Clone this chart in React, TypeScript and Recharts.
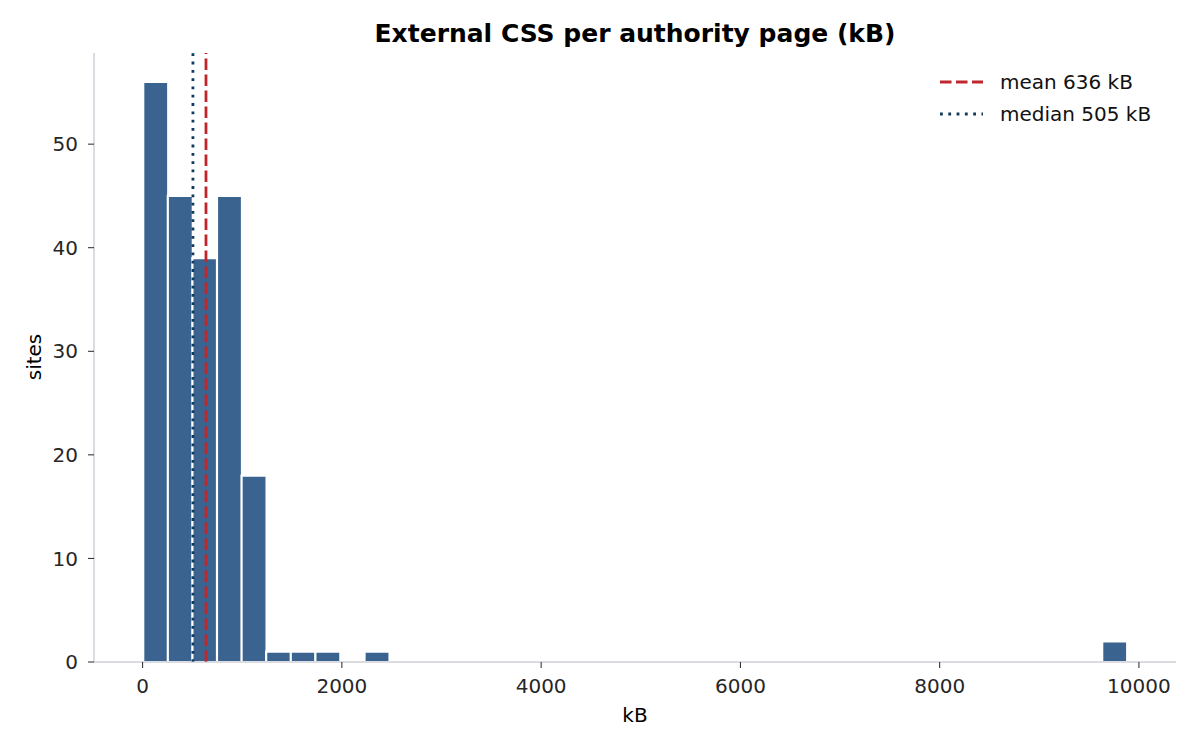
import React from "react";
import { ComposedChart, Bar, XAxis, YAxis, ReferenceLine } from "recharts";

// histogram of external CSS per page, 40 equal bins from ~6 to ~9878 kB
const BIN_START = 6;
const BIN_WIDTH = 246.8;
const counts = [
  56, 45, 39, 45, 18, 1, 1, 1, 0, 1,
  0, 0, 0, 0, 0, 0, 0, 0, 0, 0,
  0, 0, 0, 0, 0, 0, 0, 0, 0, 0,
  0, 0, 0, 0, 0, 0, 0, 0, 0, 2,
];
const xTicks = [0, 2000, 4000, 6000, 8000, 10000];
const yTicks = [0, 10, 20, 30, 40, 50];
const MEAN = 636;
const MEDIAN = 505;

const data = counts.map((c, i) => ({
  x: BIN_START + (i + 0.5) * BIN_WIDTH,
  sites: c,
}));

const FONT = "'DejaVu Sans', sans-serif";
const BAR = "#3a6390";
const MEAN_COLOR = "#c0272d";
const MEDIAN_COLOR = "#0d3b5e";
const SPINE = "#b5b9c4";
const INK = "#262626";
const MEAN_DASH = "11.5 4.5";
const MEDIAN_DASH = "2.8 5.5";

function LegendBox() {
  const rows = [
    { label: `mean ${MEAN} kB`, color: MEAN_COLOR, dash: MEAN_DASH },
    { label: `median ${MEDIAN} kB`, color: MEDIAN_COLOR, dash: MEDIAN_DASH },
  ];
  return (
    <svg
      width={260}
      height={70}
      style={{ position: "absolute", left: 930, top: 65 }}
    >
      {rows.map((r, i) => (
        <g key={r.label}>
          <line
            x1={10}
            x2={53}
            y1={17 + i * 32}
            y2={17 + i * 32}
            stroke={r.color}
            strokeWidth={2.8}
            strokeDasharray={r.dash}
          />
          <text
            x={70}
            y={24 + i * 32}
            fontFamily={FONT}
            fontSize={20}
            fill="#111"
          >
            {r.label}
          </text>
        </g>
      ))}
    </svg>
  );
}

export default function App() {
  return (
    <div
      style={{
        position: "absolute",
        left: 0,
        top: 0,
        width: 1200,
        height: 750,
        background: "#fff",
      }}
    >
      <div
        style={{
          position: "absolute",
          left: 94,
          top: 18.6,
          width: 1082,
          textAlign: "center",
          fontFamily: FONT,
          fontWeight: "bold",
          fontSize: 25,
          lineHeight: "30px",
          color: "#000",
        }}
      >
        External CSS per authority page (kB)
      </div>
      <ComposedChart
        width={1200}
        height={750}
        data={data}
        margin={{ top: 53, right: 24, bottom: 0, left: 0 }}
        barCategoryGap={0}
        barGap={0}
      >
        <XAxis
          dataKey="x"
          type="number"
          domain={[-488, 10372]}
          ticks={xTicks}
          allowDataOverflow
          height={88}
          stroke={SPINE}
          tickSize={6}
          tickMargin={11}
          tickLine={{ stroke: INK }}
          tick={{ fill: INK, fontFamily: FONT, fontSize: 20 }}
          label={(props: any) => (
            <text
              x={props.viewBox.x + props.viewBox.width / 2}
              y={722}
              textAnchor="middle"
              fontFamily={FONT}
              fontSize={20}
              fill="#000"
            >
              kB
            </text>
          )}
        />
        <YAxis
          type="number"
          domain={[0, 58.8]}
          ticks={yTicks}
          allowDataOverflow
          width={94}
          stroke={SPINE}
          tickSize={6}
          tickMargin={10}
          tickLine={{ stroke: INK }}
          tick={{ fill: INK, fontFamily: FONT, fontSize: 20 }}
          label={() => (
            <text
              x={41}
              y={357}
              transform="rotate(-90 41 357)"
              textAnchor="middle"
              fontFamily={FONT}
              fontSize={20}
              fill="#000"
            >
              sites
            </text>
          )}
        />
        <Bar
          dataKey="sites"
          fill={BAR}
          stroke="#fff"
          strokeWidth={2.2}
          isAnimationActive={false}
        />
        <ReferenceLine
          x={MEDIAN}
          stroke={MEDIAN_COLOR}
          strokeWidth={2.8}
          strokeDasharray={MEDIAN_DASH}
        />
        <ReferenceLine
          x={MEAN}
          stroke={MEAN_COLOR}
          strokeWidth={2.8}
          strokeDasharray={MEAN_DASH}
        />
      </ComposedChart>
      <LegendBox />
    </div>
  );
}
